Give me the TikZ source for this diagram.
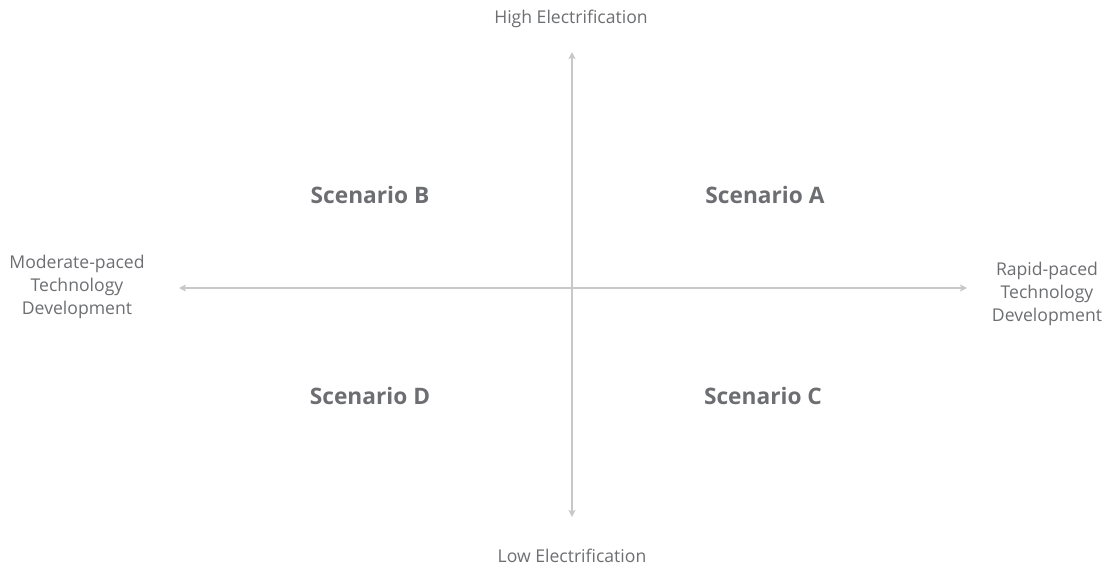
\documentclass[tikz,border=0pt]{standalone}
\usepackage{fontspec}
\setmainfont{Open Sans}
\usetikzlibrary{arrows.meta}
\definecolor{axisgray}{HTML}{C8C8C8}
\definecolor{txtgray}{HTML}{6D6E71}
\tikzset{
  axisline/.style={draw=axisgray, line width=2pt, -{Stealth[length=7pt,width=7pt,inset=1.5pt]}},
  axislabel/.style={text=txtgray, font=\fontsize{17.6}{23}\selectfont, align=center, inner sep=0pt},
  scen/.style={text=txtgray, font=\fontsize{22.7}{26}\selectfont\bfseries, inner sep=0pt},
}
\begin{document}
\begin{tikzpicture}[x=1pt,y=-1pt]
\useasboundingbox (0,0) rectangle (1109,569);
\coordinate (c) at (572,288);
\coordinate (top) at (572,52);
\coordinate (bot) at (572,517);
\coordinate (lft) at (179,288);
\coordinate (rgt) at (967,288);
\draw[axisline] (c) -- (top);
\draw[axisline] (c) -- (bot);
\draw[axisline] (c) -- (lft);
\draw[axisline] (c) -- (rgt);
\node[axislabel] (hi) at (571,19) {High Electrification};
\node[axislabel] (lo) at (572,556) {Low Electrification};
\node[axislabel] (mod) at (77,287) {Moderate-paced\\Technology\\Development};
\node[axislabel] (rap) at (1047,294) {Rapid-paced\\Technology\\Development};
\node[scen] (sb) at (370,195) {Scenario B};
\node[scen] (sa) at (765,195) {Scenario A};
\node[scen] (sd) at (370,396) {Scenario D};
\node[scen] (sc) at (763,396) {Scenario C};
\end{tikzpicture}
\end{document}
